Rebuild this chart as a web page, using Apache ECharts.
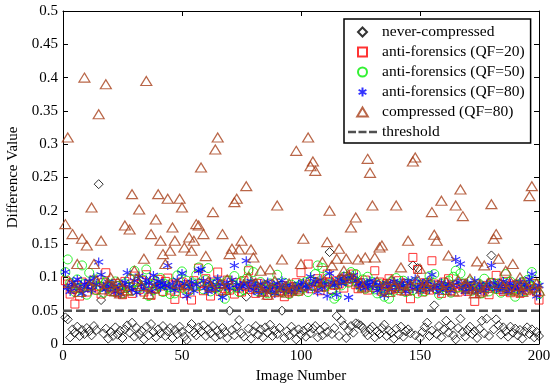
<!DOCTYPE html>
<html>
<head>
<meta charset="utf-8">
<script src="https://cdn.jsdelivr.net/npm/echarts@6/dist/echarts.min.js"></script>
<style>
  html, body { margin: 0; padding: 0; background: #fff; }
  #chart { width: 550px; height: 383px; }
</style>
</head>
<body>
<div id="chart"></div>
<script>
// values, image 1..200
const neverCompressed = [
  0.040, 0.037, 0.010, 0.022, 0.017, 0.026, 0.012, 0.021, 0.015, 0.024,
  0.019, 0.013, 0.027, 0.021, 0.240, 0.066, 0.016, 0.023, 0.008, 0.018,
  0.012, 0.025, 0.014, 0.020, 0.009, 0.022, 0.028, 0.017, 0.032, 0.011,
  0.024, 0.015, 0.020, 0.007, 0.026, 0.013, 0.030, 0.018, 0.010, 0.022,
  0.016, 0.027, 0.012, 0.019, 0.024, 0.009, 0.021, 0.015, 0.026, 0.018,
  0.011, 0.006, 0.023, 0.030, 0.017, 0.013, 0.025, 0.019, 0.028, 0.012,
  0.022, 0.016, 0.027, 0.010, 0.020, 0.014, 0.024, 0.018, 0.009, 0.050,
  0.021, 0.013, 0.026, 0.036, 0.016, 0.011, 0.071, 0.023, 0.008, 0.019,
  0.027, 0.014, 0.022, 0.010, 0.025, 0.017, 0.029, 0.012, 0.020, 0.015,
  0.024, 0.050, 0.009, 0.019, 0.013, 0.026, 0.018, 0.007, 0.022, 0.014,
  0.020, 0.011, 0.025, 0.016, 0.023, 0.027, 0.010, 0.021, 0.013, 0.026,
  0.018, 0.138, 0.015, 0.024, 0.042, 0.012, 0.035, 0.028, 0.009, 0.020,
  0.027, 0.017, 0.031, 0.030, 0.028, 0.024, 0.018, 0.013, 0.022, 0.026,
  0.010, 0.019, 0.015, 0.024, 0.029, 0.012, 0.020, 0.017, 0.008, 0.023,
  0.014, 0.026, 0.011, 0.019, 0.022, 0.016, 0.118, 0.013, 0.114, 0.009,
  0.018, 0.025, 0.032, 0.012, 0.020, 0.058, 0.015, 0.027, 0.010, 0.022,
  0.035, 0.017, 0.028, 0.013, 0.007, 0.024, 0.038, 0.018, 0.011, 0.021,
  0.026, 0.015, 0.019, 0.009, 0.023, 0.035, 0.016, 0.038, 0.012, 0.133,
  0.022, 0.037, 0.028, 0.014, 0.025, 0.019, 0.011, 0.026, 0.017, 0.023,
  0.013, 0.021, 0.008, 0.019, 0.025, 0.015, 0.022, 0.010, 0.018, 0.012
]

const antiQF20 = [
  0.095, 0.090, 0.075, 0.082, 0.060, 0.088, 0.072, 0.093, 0.085, 0.078,
  0.090, 0.084, 0.096, 0.081, 0.087, 0.075, 0.092, 0.107, 0.086, 0.079,
  0.083, 0.091, 0.077, 0.088, 0.074, 0.094, 0.080, 0.086, 0.076, 0.102,
  0.089, 0.082, 0.095, 0.078, 0.104, 0.085, 0.073, 0.091, 0.083, 0.097,
  0.087, 0.079, 0.094, 0.099, 0.081, 0.090, 0.067, 0.088, 0.084, 0.093,
  0.076, 0.089, 0.082, 0.066, 0.095, 0.086, 0.114, 0.091, 0.080, 0.098,
  0.087, 0.072, 0.093, 0.085, 0.108, 0.079, 0.090, 0.083, 0.096, 0.081,
  0.088, 0.075, 0.092, 0.084, 0.078, 0.095, 0.086, 0.110, 0.082, 0.089,
  0.076, 0.091, 0.084, 0.079, 0.087, 0.073, 0.090, 0.082, 0.077, 0.085,
  0.080, 0.088, 0.071, 0.084, 0.078, 0.086, 0.082, 0.092, 0.079, 0.107,
  0.085, 0.090, 0.120, 0.083, 0.094, 0.087, 0.098, 0.080, 0.091, 0.086,
  0.105, 0.093, 0.082, 0.088, 0.095, 0.090, 0.097, 0.084, 0.101, 0.093,
  0.098, 0.105, 0.089, 0.083, 0.092, 0.087, 0.096, 0.081, 0.090, 0.085,
  0.110, 0.088, 0.093, 0.079, 0.086, 0.091, 0.098, 0.082, 0.089, 0.084,
  0.095, 0.080, 0.087, 0.091, 0.083, 0.068, 0.130, 0.089, 0.112, 0.085,
  0.078, 0.092, 0.086, 0.081, 0.125, 0.090, 0.083, 0.088, 0.076, 0.093,
  0.085, 0.098, 0.080, 0.089, 0.084, 0.078, 0.091, 0.086, 0.082, 0.079,
  0.087, 0.083, 0.064, 0.090, 0.076, 0.085, 0.081, 0.088, 0.074, 0.092,
  0.086, 0.103, 0.082, 0.089, 0.079, 0.094, 0.084, 0.077, 0.088, 0.081,
  0.090, 0.076, 0.085, 0.093, 0.080, 0.087, 0.083, 0.091, 0.078, 0.066
]

const antiQF50 = [
  0.108, 0.127, 0.092, 0.085, 0.078, 0.097, 0.083, 0.118, 0.090, 0.074,
  0.107, 0.088, 0.095, 0.081, 0.099, 0.086, 0.077, 0.093, 0.084, 0.089,
  0.079, 0.094, 0.087, 0.082, 0.076, 0.091, 0.085, 0.098, 0.080, 0.110,
  0.093, 0.084, 0.088, 0.096, 0.112, 0.072, 0.089, 0.081, 0.094, 0.086,
  0.099, 0.078, 0.090, 0.085, 0.075, 0.092, 0.076, 0.103, 0.087, 0.109,
  0.083, 0.095, 0.080, 0.091, 0.086, 0.104, 0.115, 0.088, 0.082, 0.096,
  0.114, 0.079, 0.090, 0.084, 0.093, 0.087, 0.077, 0.068, 0.095, 0.083,
  0.089, 0.102, 0.085, 0.078, 0.094, 0.081, 0.098, 0.112, 0.090, 0.108,
  0.086, 0.079, 0.093, 0.082, 0.088, 0.076, 0.091, 0.084, 0.080, 0.104,
  0.087, 0.078, 0.092, 0.083, 0.075, 0.089, 0.081, 0.086, 0.079, 0.090,
  0.084, 0.093, 0.078, 0.096, 0.088, 0.105, 0.118, 0.091, 0.114, 0.086,
  0.099, 0.090, 0.081, 0.068, 0.072, 0.094, 0.088, 0.101, 0.096, 0.092,
  0.108, 0.099, 0.105, 0.091, 0.086, 0.097, 0.083, 0.101, 0.089, 0.093,
  0.082, 0.076, 0.090, 0.085, 0.071, 0.088, 0.068, 0.094, 0.080, 0.099,
  0.087, 0.083, 0.095, 0.078, 0.091, 0.086, 0.081, 0.093, 0.076, 0.089,
  0.084, 0.079, 0.092, 0.102, 0.088, 0.105, 0.083, 0.074, 0.090, 0.086,
  0.081, 0.095, 0.077, 0.101, 0.110, 0.085, 0.106, 0.091, 0.083, 0.088,
  0.094, 0.080, 0.087, 0.082, 0.090, 0.076, 0.098, 0.085, 0.079, 0.092,
  0.088, 0.083, 0.091, 0.077, 0.086, 0.105, 0.082, 0.094, 0.080, 0.071,
  0.089, 0.085, 0.093, 0.079, 0.096, 0.088, 0.108, 0.083, 0.090, 0.075
]

const antiQF80 = [
  0.108, 0.085, 0.079, 0.092, 0.088, 0.097, 0.083, 0.076, 0.090, 0.086,
  0.094, 0.081, 0.099, 0.089, 0.123, 0.104, 0.087, 0.082, 0.093, 0.085,
  0.090, 0.078, 0.084, 0.075, 0.088, 0.093, 0.107, 0.086, 0.081, 0.095,
  0.077, 0.102, 0.089, 0.083, 0.096, 0.091, 0.079, 0.103, 0.087, 0.094,
  0.085, 0.092, 0.088, 0.118, 0.084, 0.090, 0.081, 0.096, 0.087, 0.106,
  0.091, 0.072, 0.086, 0.093, 0.080, 0.089, 0.110, 0.112, 0.095, 0.085,
  0.079, 0.093, 0.087, 0.082, 0.098, 0.090, 0.070, 0.086, 0.092, 0.084,
  0.096, 0.118, 0.089, 0.083, 0.087, 0.091, 0.125, 0.085, 0.094, 0.081,
  0.088, 0.077, 0.090, 0.084, 0.079, 0.093, 0.082, 0.087, 0.076, 0.091,
  0.085, 0.095, 0.080, 0.088, 0.083, 0.078, 0.086, 0.081, 0.090, 0.084,
  0.092, 0.087, 0.083, 0.101, 0.089, 0.094, 0.078, 0.096, 0.085, 0.090,
  0.072, 0.106, 0.093, 0.088, 0.074, 0.097, 0.091, 0.102, 0.094, 0.070,
  0.099, 0.103, 0.095, 0.090, 0.086, 0.092, 0.084, 0.089, 0.095, 0.087,
  0.093, 0.080, 0.088, 0.083, 0.073, 0.091, 0.086, 0.081, 0.094, 0.089,
  0.084, 0.092, 0.087, 0.079, 0.095, 0.090, 0.083, 0.098, 0.086, 0.080,
  0.091, 0.087, 0.094, 0.082, 0.104, 0.089, 0.085, 0.078, 0.092, 0.086,
  0.083, 0.090, 0.080, 0.088, 0.127, 0.093, 0.120, 0.085, 0.079, 0.091,
  0.087, 0.082, 0.095, 0.078, 0.089, 0.084, 0.080, 0.090, 0.086, 0.118,
  0.092, 0.083, 0.088, 0.081, 0.094, 0.086, 0.079, 0.091, 0.084, 0.087,
  0.082, 0.093, 0.078, 0.089, 0.085, 0.097, 0.105, 0.083, 0.072, 0.088
]

const compressedQF80 = [
  0.180, 0.310, 0.092, 0.165, 0.085, 0.120, 0.078, 0.158, 0.400, 0.148,
  0.088, 0.205, 0.120, 0.095, 0.345, 0.155, 0.082, 0.390, 0.090, 0.100,
  0.086, 0.079, 0.093, 0.076, 0.084, 0.178, 0.080, 0.172, 0.225, 0.110,
  0.098, 0.202, 0.087, 0.128, 0.395, 0.075, 0.165, 0.083, 0.187, 0.225,
  0.155, 0.135, 0.120, 0.218, 0.140, 0.175, 0.155, 0.091, 0.218, 0.205,
  0.145, 0.088, 0.160, 0.140, 0.155, 0.180, 0.178, 0.265, 0.165, 0.132,
  0.094, 0.086, 0.198, 0.292, 0.310, 0.090, 0.165, 0.081, 0.097, 0.135,
  0.143, 0.213, 0.218, 0.142, 0.155, 0.089, 0.237, 0.101, 0.142, 0.130,
  0.092, 0.084, 0.110, 0.078, 0.088, 0.074, 0.112, 0.083, 0.095, 0.208,
  0.079, 0.127, 0.086, 0.077, 0.091, 0.080, 0.085, 0.290, 0.082, 0.120,
  0.158, 0.088, 0.310, 0.267, 0.274, 0.260, 0.093, 0.086, 0.123, 0.095,
  0.153, 0.200, 0.118, 0.090, 0.128, 0.143, 0.098, 0.110, 0.128, 0.104,
  0.175, 0.099, 0.190, 0.127, 0.092, 0.085, 0.130, 0.278, 0.257, 0.208,
  0.130, 0.094, 0.145, 0.148, 0.082, 0.090, 0.078, 0.096, 0.087, 0.208,
  0.084, 0.115, 0.091, 0.080, 0.155, 0.088, 0.274, 0.280, 0.097, 0.113,
  0.083, 0.090, 0.086, 0.094, 0.198, 0.164, 0.155, 0.089, 0.215, 0.081,
  0.093, 0.133, 0.087, 0.079, 0.208, 0.096, 0.232, 0.192, 0.091, 0.085,
  0.098, 0.082, 0.076, 0.124, 0.088, 0.079, 0.118, 0.084, 0.092, 0.210,
  0.158, 0.165, 0.128, 0.090, 0.086, 0.110, 0.082, 0.094, 0.120, 0.080,
  0.087, 0.100, 0.078, 0.089, 0.083, 0.222, 0.237, 0.085, 0.091, 0.080
]

const threshold = 0.05
const xTicks = { min: 0, max: 200, interval: 50 }
const yTicks = { min: 0, max: 0.5, interval: 0.05 }

const FONT = 'Liberation Serif'

// marker shapes (paths keep their aspect inside the legend)
const starPath = 'path://M5,0L5,10M0.67,2.5L9.33,7.5M0.67,7.5L9.33,2.5'
const diamondPath = 'path://M5,0L10,5L5,10L0,5Z'
const squarePath = 'path://M0,0L10,0L10,10L0,10Z'
const circlePath = 'path://M5,0A5,5,0,1,1,5,10A5,5,0,1,1,5,0Z'
const trianglePath = 'path://M5,0L10,8.5L0,8.5Z'
const dashPath = 'path://M0,0L8,0L8,2.5L0,2.5ZM10.5,0L18.5,0L18.5,2.5L10.5,2.5ZM21,0L29,0L29,2.5L21,2.5Z'

const toPoints = arr => arr.map((v, i) => [i + 1, v])

const chart = echarts.init(document.getElementById('chart'))

// matlab style box: ticks inside on all four sides
const tickAxis = (extra) => Object.assign({
  type: 'value',
  axisLine: { show: true, onZero: false, lineStyle: { color: '#000', width: 1 } },
  axisTick: { show: true, inside: true, length: 5, lineStyle: { color: '#000' } },
  splitLine: { show: false }
}, extra)

const option = {
  animation: false,
  backgroundColor: '#fff',
  grid: { left: 63, right: 11, top: 11, bottom: 39, outerBoundsMode: 'none', containLabel: false },
  xAxis: [
    tickAxis({
      position: 'bottom',
      min: xTicks.min, max: xTicks.max, interval: xTicks.interval,
      name: 'Image Number', nameLocation: 'middle', nameGap: 21,
      nameTextStyle: { fontFamily: FONT, fontSize: 15, color: '#000' },
      axisLabel: { fontFamily: FONT, fontSize: 15, color: '#000', margin: 5 }
    }),
    tickAxis({
      position: 'top',
      min: xTicks.min, max: xTicks.max, interval: xTicks.interval,
      axisLabel: { show: false }
    })
  ],
  yAxis: [
    tickAxis({
      position: 'left',
      min: yTicks.min, max: yTicks.max, interval: yTicks.interval,
      name: 'Difference Value', nameLocation: 'middle', nameGap: 38,
      nameTextStyle: { fontFamily: FONT, fontSize: 15, color: '#000' },
      axisLabel: { fontFamily: FONT, fontSize: 15, color: '#000', margin: 5 }
    }),
    tickAxis({
      position: 'right',
      min: yTicks.min, max: yTicks.max, interval: yTicks.interval,
      axisLabel: { show: false }
    })
  ],
  legend: {
    orient: 'vertical',
    left: 344, top: 19,
    padding: [4, 6, 2, 4],
    itemWidth: 29, itemHeight: 9, itemGap: 2,
    symbolKeepAspect: true,
    backgroundColor: '#fff',
    borderColor: '#000', borderWidth: 1.5, borderRadius: 0,
    textStyle: { fontFamily: FONT, fontSize: 15.5, color: '#000', lineHeight: 18 },
    data: [
      { name: 'never-compressed', icon: diamondPath },
      { name: 'anti-forensics (QF=20)', icon: squarePath },
      { name: 'anti-forensics (QF=50)', icon: circlePath },
      { name: 'anti-forensics (QF=80)', icon: starPath },
      { name: 'compressed (QF=80)', icon: trianglePath },
      { name: 'threshold', icon: dashPath }
    ]
  },
  series: [
    {
      name: 'never-compressed', type: 'scatter',
      data: toPoints(neverCompressed),
      symbol: 'diamond', symbolSize: 9,
      itemStyle: { color: 'none', borderColor: '#000', borderWidth: 1 }
    },
    {
      name: 'anti-forensics (QF=20)', type: 'scatter',
      data: toPoints(antiQF20),
      symbol: 'rect', symbolSize: 8,
      itemStyle: { color: 'none', borderColor: '#ff0000', borderWidth: 1 }
    },
    {
      name: 'anti-forensics (QF=50)', type: 'scatter',
      data: toPoints(antiQF50),
      symbol: 'circle', symbolSize: 9,
      itemStyle: { color: 'none', borderColor: '#00ee00', borderWidth: 1 }
    },
    {
      name: 'anti-forensics (QF=80)', type: 'scatter',
      data: toPoints(antiQF80),
      symbol: starPath, symbolSize: 9,
      itemStyle: { color: 'none', borderColor: '#0000ff', borderWidth: 1.2 }
    },
    {
      name: 'compressed (QF=80)', type: 'scatter',
      data: toPoints(compressedQF80),
      symbol: 'triangle', symbolSize: [11, 9],
      itemStyle: { color: 'none', borderColor: '#a8401a', borderWidth: 1.2 }
    },
    {
      name: 'threshold', type: 'line',
      data: [[xTicks.min, threshold], [xTicks.max, threshold]],
      symbol: 'none',
      lineStyle: { color: '#505050', width: 2.5, type: [9, 4] },
      itemStyle: { color: '#505050' }
    }
  ]
}

chart.setOption(option)
</script>
</body>
</html>
